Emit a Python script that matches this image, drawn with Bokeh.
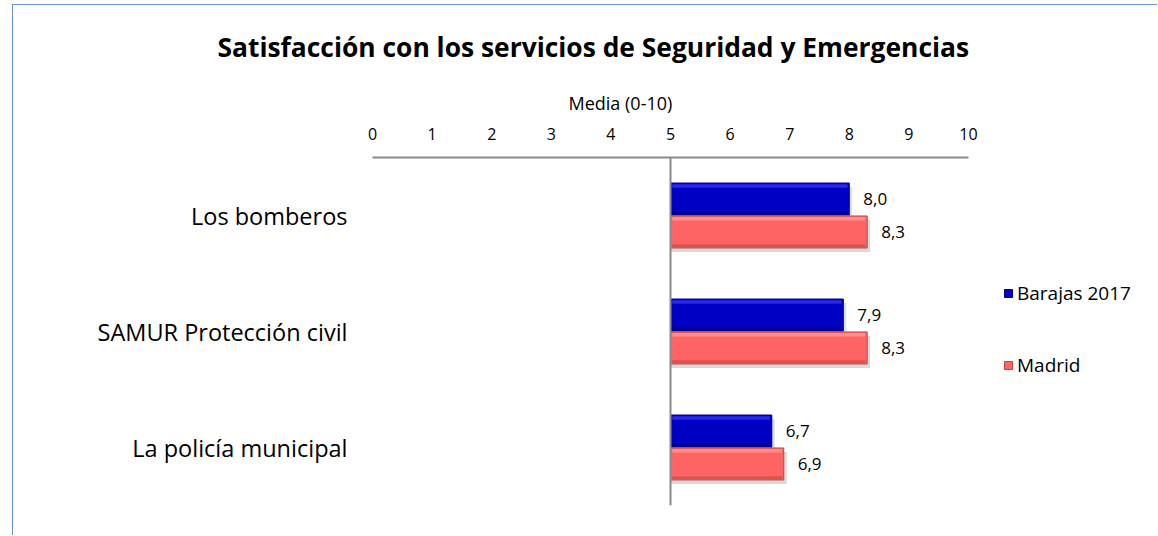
from bokeh.plotting import figure
from bokeh.models import (Range1d, FactorRange, Span, Legend, LegendItem,
                          FixedTicker, ColumnDataSource, Title)
from bokeh.transform import dodge
from bokeh.core.properties import value
from bokeh.embed import file_html
from bokeh.resources import INLINE

# ---- data ----
categories = ["Los bomberos", "SAMUR Protección civil", "La policía municipal"]
barajas = [8.0, 7.9, 6.7]
madrid = [8.3, 8.3, 6.9]
series_names = ["Barajas 2017", "Madrid"]
tick_values = [0, 1, 2, 3, 4, 5, 6, 7, 8, 9, 10]
chart_title = "Satisfacción con los servicios de Seguridad y Emergencias"
axis_title = "Media (0-10)"
baseline = 5
scale_min, scale_max = 0, 10

FONT = "Open Sans"
BLUE = "#0000c4"
BLUE_EDGE = "#000088"
BLUE_HI = "#3a3aff"
RED = "#ff6464"
RED_EDGE = "#b84848"
RED_HI = "#ff9a9a"


def fmt(v):
    return f"{v:.1f}".replace(".", ",")


src = ColumnDataSource(dict(
    cat=categories,
    b=barajas,
    m=madrid,
    base=[baseline] * len(categories),
    bl=[fmt(v) for v in barajas],
    ml=[fmt(v) for v in madrid],
))

W, H_FIG = 1145, 531
LEFT, TOP, BOTTOM = 359, 152, 31
PX_PER_UNIT = 59.6
x_end = (W - LEFT) / PX_PER_UNIT   # frame extends past the scale so the legend fits

p = figure(width=W, height=H_FIG,
           y_range=FactorRange(*categories[::-1]),
           x_range=Range1d(scale_min, x_end),
           x_axis_location="above",
           output_backend="svg", toolbar_location=None,
           min_border_left=LEFT, min_border_right=0,
           min_border_top=TOP, min_border_bottom=BOTTOM)

p.styles = {"margin-left": "12px", "margin-top": "4px",
            "border-left": "1px solid #6b93d3",
            "border-top": "1px solid #6b93d3"}

p.grid.visible = False
p.outline_line_color = None
p.background_fill_color = "white"
p.border_fill_color = "white"

# main title
p.title.text = chart_title
p.title.text_font = FONT
p.title.text_font_size = "26.4px"
p.title.text_font_style = "bold"
p.title.text_color = "#000000"
p.title.align = "left"
p.title.offset = -155
p.title.standoff = 27

# x axis (top)
xa = p.xaxis[0]
xa.bounds = (scale_min, scale_max)
xa.ticker = FixedTicker(ticks=tick_values)
xa.major_label_text_font = FONT
xa.major_label_text_font_size = "16px"
xa.major_label_text_color = "#000000"
xa.major_label_standoff = 18
xa.major_tick_out = 0
xa.major_tick_in = 0
xa.major_tick_line_color = None
xa.minor_tick_line_color = None
xa.axis_line_color = "#8a8a8a"
xa.axis_line_width = 2

# axis title, centred over the 0-10 scale
axis_t = Title(text=axis_title, align="left", offset=196, standoff=20,
               text_font=FONT, text_font_size="18px", text_font_style="normal",
               text_color="#000000")
p.add_layout(axis_t, "above")

# y axis (categories)
ya = p.yaxis[0]
ya.major_label_text_font = FONT
ya.major_label_text_font_size = "23.5px"
ya.major_label_text_color = "#000000"
ya.major_label_standoff = 25
ya.major_tick_out = 0
ya.major_tick_in = 0
ya.major_tick_line_color = None
ya.minor_tick_line_color = None
ya.axis_line_color = None

OFF = 0.142
H = 0.276

# shadows
p.hbar(y=dodge("cat", OFF - 0.035, range=p.y_range), left="base",
       right=dodge("b", 0.05), height=H, source=src,
       fill_color="#000000", fill_alpha=0.12, line_color=None)
p.hbar(y=dodge("cat", -OFF - 0.035, range=p.y_range), left="base",
       right=dodge("m", 0.05), height=H, source=src,
       fill_color="#000000", fill_alpha=0.15, line_color=None)

# main bars
rb = p.hbar(y=dodge("cat", OFF, range=p.y_range), left="base", right="b",
            height=H, source=src, fill_color=BLUE, line_color=BLUE_EDGE,
            line_width=1)
rm = p.hbar(y=dodge("cat", -OFF, range=p.y_range), left="base", right="m",
            height=H, source=src, fill_color=RED, line_color=RED_EDGE,
            line_width=1)

# bevel highlights (top strip) and shade (bottom strip)
p.hbar(y=dodge("cat", OFF + H / 2 - 0.025, range=p.y_range),
       left=dodge("base", 0.03), right=dodge("b", -0.03), height=0.03,
       source=src, fill_color=BLUE_HI, fill_alpha=0.7, line_color=None)
p.hbar(y=dodge("cat", OFF - H / 2 + 0.02, range=p.y_range),
       left=dodge("base", 0.03), right=dodge("b", -0.03), height=0.025,
       source=src, fill_color="#00006a", fill_alpha=0.7, line_color=None)
p.hbar(y=dodge("cat", -OFF + H / 2 - 0.025, range=p.y_range),
       left=dodge("base", 0.03), right=dodge("m", -0.03), height=0.03,
       source=src, fill_color=RED_HI, fill_alpha=0.8, line_color=None)
p.hbar(y=dodge("cat", -OFF - H / 2 + 0.02, range=p.y_range),
       left=dodge("base", 0.03), right=dodge("m", -0.03), height=0.025,
       source=src, fill_color="#d04e4e", fill_alpha=0.8, line_color=None)

# value labels
p.text(x="b", y=dodge("cat", OFF, range=p.y_range), text="bl", source=src,
       x_offset=14, text_align="left", text_baseline="middle",
       text_font=value(FONT), text_font_size="17px", text_color="#000000")
p.text(x="m", y=dodge("cat", -OFF, range=p.y_range), text="ml", source=src,
       x_offset=14, text_align="left", text_baseline="middle",
       text_font=value(FONT), text_font_size="17px", text_color="#000000")

# baseline at 5
p.add_layout(Span(location=baseline, dimension="height",
                  line_color="#8a8a8a", line_width=2))

legend = Legend(items=[LegendItem(label=series_names[0], renderers=[rb]),
                       LegendItem(label=series_names[1], renderers=[rm])],
                location=(631, 127))
legend.glyph_width = 10
legend.glyph_height = 10
legend.label_standoff = 4
legend.label_text_font = FONT
legend.label_text_font_size = "19px"
legend.label_text_color = "#000000"
legend.label_height = 24
legend.spacing = 46
legend.padding = 0
legend.margin = 0
legend.border_line_color = None
legend.background_fill_alpha = 0
p.add_layout(legend)

open("out.html", "w").write(file_html(p, INLINE))
